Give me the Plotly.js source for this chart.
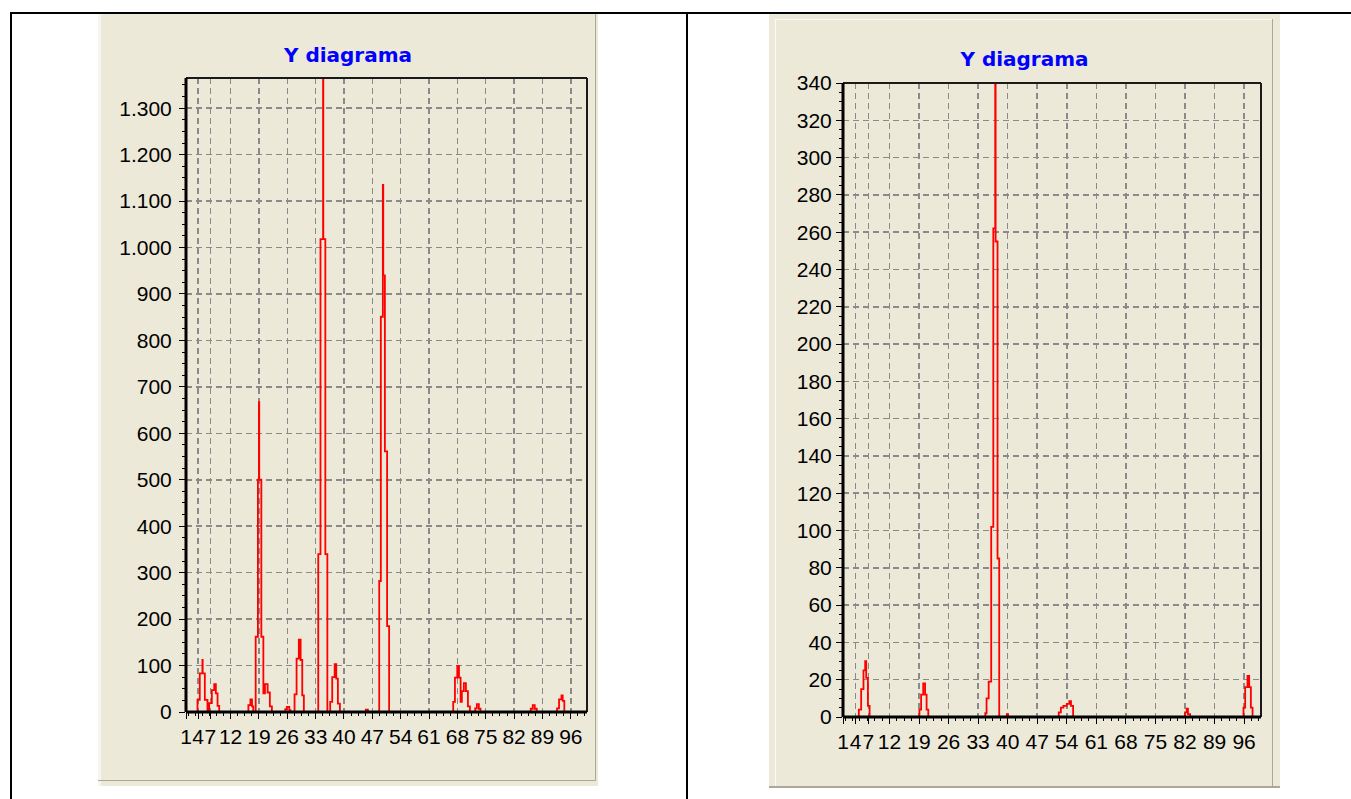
<!DOCTYPE html>
<html><head><meta charset="utf-8">
<script src="https://cdn.plot.ly/plotly-3.0.1.min.js"></script>
<style>
html,body{margin:0;padding:0;background:#fff;width:1351px;height:799px;overflow:hidden;position:relative}
.abs{position:absolute}
.b{position:absolute;background:#000}
.panel{position:absolute;background:#ECE9D8}
</style></head><body>
<div class="b" style="left:10px;top:12px;width:1341px;height:2px"></div>
<div class="b" style="left:10px;top:12px;width:2px;height:787px"></div>
<div class="b" style="left:686px;top:12px;width:2px;height:787px"></div>

<div class="panel" style="left:98px;top:14px;width:500px;height:772px"></div>
<div class="abs" style="left:98px;top:14px;width:3px;height:772px;background:#F6F5EF"></div>
<div class="abs" style="left:595px;top:14px;width:1px;height:767px;background:#ACA899"></div>
<div class="abs" style="left:98px;top:780px;width:498px;height:1px;background:#ACA899"></div>

<div class="panel" style="left:769px;top:14px;width:511px;height:774px"></div>
<div class="abs" style="left:775px;top:19px;width:1px;height:767px;background:#FAFAF6"></div>
<div class="abs" style="left:775px;top:19px;width:498px;height:1px;background:#FAFAF6"></div>
<div class="abs" style="left:1272px;top:19px;width:1px;height:768px;background:#ACA899"></div>
<div class="abs" style="left:769px;top:786px;width:511px;height:2px;background:#ACA899"></div>

<div id="chartL" class="abs" style="left:98px;top:13px;width:500px;height:773px"></div>
<div id="chartR" class="abs" style="left:769px;top:13px;width:511px;height:774px"></div>

<script>
// ---- data ----
const chartTitle = 'Y diagrama';
const xTickVals = [1, 4, 7, 12, 19, 26, 33, 40, 47, 54, 61, 68, 75, 82, 89, 96];
const xTickText = ['1', '4', '7', '12', '19', '26', '33', '40', '47', '54', '61', '68', '75', '82', '89', '96'];

const leftX = [1,
  3.84, 4.4, 5.05, 5.12, 5.65, 6.3,
  6.73, 7.38, 7.97, 8.37, 8.79, 9.2,
  16.4, 16.9, 17.3, 17.6,
  18.2, 18.75, 19.0, 19.08, 19.6, 20.1, 20.5, 21.15, 21.7, 22.2,
  25.5, 25.9, 26.5, 26.8,
  27.8, 28.3, 28.85, 29.3, 29.7, 30.1,
  33.65, 34.2, 34.84, 34.9, 35.4, 35.9,
  36.6, 37.1, 37.7, 38.1, 38.5, 39.0,
  45.4, 45.9,
  48.7, 49.1, 49.6, 49.7, 50.1, 50.65, 51.15,
  66.97, 67.4, 67.97, 68.4, 68.8, 69.1, 69.6, 70.1, 70.6, 71.1,
  72.4, 72.8, 73.3, 73.7,
  86.1, 86.6, 87.1, 87.6,
  92.6, 93.1, 93.7, 94.0, 94.4,
  100];
const leftY = [0,
  26, 83, 112, 83, 26, 0,
  19, 47, 60, 40, 13, 0,
  15, 27, 12, 0,
  162, 500, 667, 500, 162, 40, 60, 42, 12, 0,
  6, 11, 4, 0,
  38, 115, 156, 112, 36, 0,
  340, 1018, 1365, 1018, 340, 0,
  22, 75, 103, 72, 18, 0,
  5, 0,
  282, 851, 1135, 940, 561, 185, 0,
  22, 74, 99, 74, 22, 45, 62, 45, 12, 0,
  8, 17, 7, 0,
  7, 15, 7, 0,
  8, 27, 36, 24, 0,
  0];

const rightX = [1,
  4.75, 5.3, 5.85, 6.25, 6.5, 6.9, 7.3,
  19.1, 19.5, 20.0, 20.45, 20.8, 21.2,
  34.7, 35.0, 35.5, 36.1, 36.6, 37.05, 37.15, 37.6, 38.0,
  39.8, 40.1,
  52.1, 52.6, 53.2, 54.0, 54.6, 55.0, 55.5,
  82.0, 82.4, 82.7, 83.2,
  95.85, 96.25, 96.8, 97.2, 97.6, 98.0,
  100];
const rightY = [0,
  4, 15, 25, 30, 21, 6, 0,
  4, 12, 18, 12, 4, 0,
  2, 10, 19, 102, 262, 340, 255, 85, 0,
  1.5, 0,
  2.5, 5, 6, 7, 8.5, 6, 0,
  2.5, 4.5, 1.5, 0,
  5, 16, 22, 16, 5, 0,
  0];

// ---- styling / layout ----
const tickFont = {family: 'Liberation Sans, Arial, sans-serif', size: 21, color: '#000'};
const titleFont = {family: 'DejaVu Sans, Verdana, sans-serif', size: 20, color: '#0000FF', weight: 'bold'};

function frameShapes() {
  const s = [];
  const add = (x0, y0, x1, y1, w, c) => s.push({type: 'line', xref: 'paper', yref: 'paper', x0, y0, x1, y1, layer: 'above', line: {color: c, width: w}});
  add(0, 1, 1, 1, 2, '#1a1a1a');
  add(1, 0, 1, 1, 2, '#1a1a1a');
  add(0, 0, 0, 1, 3, '#000');
  add(0, 0, 1, 0, 3, '#000');
  return s;
}

function makeFig(xs, ys, yMax, yDtick, yMinor, margin, titleY, yFormat, yStandoff) {
  const trace = {
    x: xs, y: ys, type: 'scatter', mode: 'lines',
    line: {color: '#FF0000', width: 1.8, shape: 'hv'},
    hoverinfo: 'skip'
  };
  const layout = {
    margin: margin,
    paper_bgcolor: 'rgba(0,0,0,0)',
    plot_bgcolor: 'rgba(0,0,0,0)',
    separators: ',.',
    showlegend: false,
    title: {text: chartTitle, font: titleFont, x: 0.5, xref: 'container', xanchor: 'center',
            y: titleY, yref: 'container', yanchor: 'middle'},
    xaxis: {
      range: [1, 100], fixedrange: true,
      tickmode: 'array', tickvals: xTickVals, ticktext: xTickText, tickangle: 0,
      ticks: 'outside', ticklen: 6, tickwidth: 1, tickcolor: '#000',
      tickfont: tickFont,
      showgrid: true, gridcolor: '#8a8a8a', gridwidth: 1.5, griddash: '6px,4px',
      zeroline: false, showline: false,
      minor: {tickmode: 'linear', tick0: 5, dtick: 1.75, ticks: 'outside', ticklen: 3, tickcolor: '#000', tickwidth: 1, showgrid: false}
    },
    yaxis: {
      range: [0, yMax], fixedrange: true,
      tickmode: 'linear', tick0: 0, dtick: yDtick, tickformat: yFormat,
      ticks: 'outside', ticklen: 6, tickwidth: 1, tickcolor: '#000',
      tickfont: tickFont, ticklabelstandoff: yStandoff,
      showgrid: true, gridcolor: '#8a8a8a', gridwidth: 1.5, griddash: '6px,4px',
      zeroline: false, showline: false,
      minor: {tickmode: 'linear', tick0: 0, dtick: yMinor, ticks: 'outside', ticklen: 3, tickcolor: '#000', tickwidth: 1, showgrid: false}
    },
    shapes: frameShapes()
  };
  return {data: [trace], layout};
}

const cfg = {displayModeBar: false, staticPlot: true};

const figL = makeFig(leftX, leftY, 1365, 100, 25, {l: 88, r: 11, t: 65, b: 74, pad: 0}, 1 - 41.5 / 773, ',d', 3);
figL.layout.width = 500; figL.layout.height = 773;
Plotly.newPlot('chartL', figL.data, figL.layout, cfg);

const figR = makeFig(rightX, rightY, 340, 20, 5, {l: 74, r: 19, t: 70, b: 70, pad: 0}, 1 - 45.5 / 774, 'd', 0);
figR.layout.width = 511; figR.layout.height = 774;
Plotly.newPlot('chartR', figR.data, figR.layout, cfg);
</script>
</body></html>
